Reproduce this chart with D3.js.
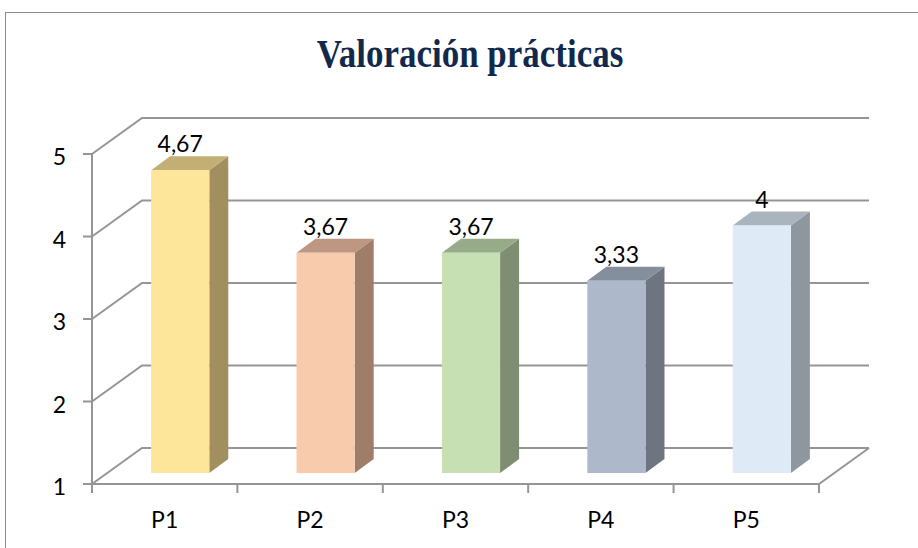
<!DOCTYPE html>
<html>
<head>
<meta charset="utf-8">
<script src="https://cdn.jsdelivr.net/npm/d3@7"></script>
<style>
  body { margin: 0; background: #fff; }
  svg { display: block; }
</style>
</head>
<body>
<div id="chart"></div>
<script>
const categories = ['P1', 'P2', 'P3', 'P4', 'P5'];
const values = [4.67, 3.67, 3.67, 3.33, 4];
const valueLabels = ['4,67', '3,67', '3,67', '3,33', '4'];
const yTicks = [1, 2, 3, 4, 5];
const frontColors = ['#FDE599', '#F8CBAD', '#C6E0B4', '#ADB9CA', '#DEEBF7'];
const topColors = ['#C3AE73', '#BE9782', '#97AB89', '#848E9C', '#A9B4BE'];
const sideColors = ['#A28F5F', '#9E7D69', '#7F8E73', '#6E7580', '#8E969E'];

const W = 918, H = 548;
const svg = d3.select('#chart').append('svg').attr('width', W).attr('height', H);

// chart border (cut off on the right and bottom)
svg.append('rect')
  .attr('x', 5.5).attr('y', 12.5)
  .attr('width', W + 20).attr('height', H + 20)
  .attr('fill', '#fff').attr('stroke', '#8a8a8a').attr('stroke-width', 1);

// title, stretched a little vertically to look like the condensed original
svg.append('text')
  .attr('transform', 'translate(470,67) scale(1,1.12)')
  .attr('text-anchor', 'middle')
  .style('font-family', '"Liberation Serif", "Times New Roman", serif')
  .style('font-weight', 'bold')
  .style('font-size', '35px')
  .attr('fill', '#13294B')
  .text('Valoración prácticas');

const x = d3.scaleBand().domain(categories).range([92, 819]).paddingInner(0.6).paddingOuter(0.3);
const y = d3.scaleLinear().domain([1, 5]).range([484, 154]);

// depth of the floor / walls and of the bars
const dx = 50, dy = -36;
const bdx = 19, bdy = -14;
const offX = (dx - bdx) / 2, offY = (dy - bdy) / 2;

const grid = svg.append('g').attr('stroke', '#959595').attr('stroke-width', 2).attr('fill', 'none');
const x0 = x.range()[0], x1 = x.range()[1];

// back wall gridlines + left wall diagonals
yTicks.forEach(t => {
  grid.append('path')
    .attr('d', `M${x0},${y(t)}L${x0 + dx},${y(t) + dy}L${x1 + dx},${y(t) + dy}`);
});
// floor right edge and front edge
grid.append('path').attr('d', `M${x0},${y(1)}L${x1},${y(1)}L${x1 + dx},${y(1) + dy}`);

// front value axis
const yAxis = svg.append('g').attr('transform', `translate(${x0},0)`);
yAxis.append('line').attr('x1', 0).attr('x2', 0).attr('y1', y(5)).attr('y2', y(1))
  .attr('stroke', '#959595').attr('stroke-width', 2);
yAxis.selectAll('line.tick').data(yTicks).join('line')
  .attr('class', 'tick')
  .attr('x1', -9).attr('x2', 0)
  .attr('y1', d => y(d)).attr('y2', d => y(d))
  .attr('stroke', '#959595').attr('stroke-width', 2);
yAxis.selectAll('text').data(yTicks).join('text')
  .attr('x', -26).attr('y', d => y(d) + 11)
  .attr('text-anchor', 'end')
  .style('font-family', 'Lato, "Open Sans", sans-serif')
  .style('font-size', '23px')
  .attr('fill', '#000')
  .text(d => d);

// category axis ticks + labels
const step = x.step();
const catTicks = d3.range(categories.length + 1).map(i => x0 + i * step);
svg.append('g').selectAll('line').data(catTicks).join('line')
  .attr('x1', d => d).attr('x2', d => d)
  .attr('y1', y(1)).attr('y2', y(1) + 9)
  .attr('stroke', '#959595').attr('stroke-width', 2);
svg.append('g').selectAll('text').data(categories).join('text')
  .attr('x', d => x(d) + x.bandwidth() / 2)
  .attr('y', 528)
  .attr('text-anchor', 'middle')
  .style('font-family', 'Lato, "Open Sans", sans-serif')
  .style('font-size', '23px')
  .attr('fill', '#000')
  .text(d => d);

// 3D bars
const bars = svg.append('g').selectAll('g').data(categories).join('g');
bars.each(function(c, i) {
  const g = d3.select(this);
  const left = x(c) + offX, right = left + x.bandwidth();
  const bottom = y(1) + offY, top = y(values[i]) + offY;
  g.append('path')
    .attr('d', `M${right},${bottom}L${right + bdx},${bottom + bdy}L${right + bdx},${top + bdy}L${right},${top}Z`)
    .attr('fill', sideColors[i]);
  g.append('path')
    .attr('d', `M${left},${top}L${left + bdx},${top + bdy}L${right + bdx},${top + bdy}L${right},${top}Z`)
    .attr('fill', topColors[i]);
  g.append('rect')
    .attr('x', left).attr('y', top)
    .attr('width', x.bandwidth()).attr('height', bottom - top)
    .attr('fill', frontColors[i]);
  g.append('text')
    .attr('x', left + x.bandwidth() / 2)
    .attr('y', top - 18)
    .attr('text-anchor', 'middle')
    .style('font-family', 'Lato, "Open Sans", sans-serif')
    .style('font-size', '23px')
    .attr('fill', '#000')
    .text(valueLabels[i]);
});
</script>
</body>
</html>
